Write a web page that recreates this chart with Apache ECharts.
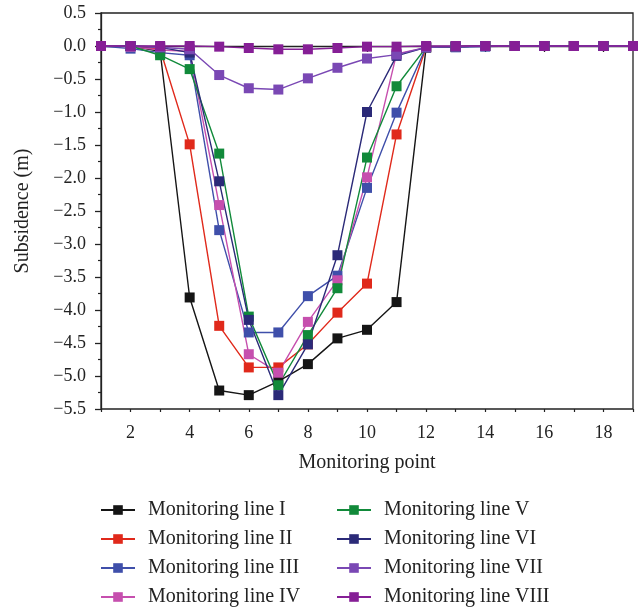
<!DOCTYPE html>
<html>
<head>
<meta charset="utf-8">
<script src="https://cdn.jsdelivr.net/npm/echarts@6/dist/echarts.min.js"></script>
<style>html,body{margin:0;padding:0;background:#fff}#c{width:640px;height:610px}</style>
</head>
<body>
<div id="c"></div>
<script>
var points = ['1','2','3','4','5','6','7','8','9','10','11','12','13','14','15','16','17','18','19'];
var seriesNames = ['Monitoring line I','Monitoring line II','Monitoring line III','Monitoring line IV','Monitoring line V','Monitoring line VI','Monitoring line VII','Monitoring line VIII'];
var lineI    = [0, 0, -0.08, -3.81, -5.22, -5.29, -5.08, -4.82, -4.43, -4.30, -3.88, -0.02, -0.01, 0, 0, 0, 0, 0, 0];
var lineII   = [0, 0, -0.05, -1.49, -4.24, -4.87, -4.87, -4.52, -4.04, -3.60, -1.34, -0.02, -0.01, 0, 0, 0, 0, 0, 0];
var lineIII  = [0, -0.04, -0.10, -0.14, -2.79, -4.34, -4.34, -3.79, -3.48, -2.15, -1.01, -0.02, -0.02, -0.01, 0, 0, 0, 0, 0];
var lineIV   = [0, -0.01, -0.06, -0.08, -2.41, -4.67, -4.95, -4.18, -3.55, -1.99, -0.12, -0.02, -0.01, 0, 0, 0, 0, 0, 0];
var lineV    = [0, 0, -0.14, -0.35, -1.63, -4.10, -5.14, -4.38, -3.67, -1.69, -0.61, -0.02, -0.01, 0, 0, 0, 0, 0, 0];
var lineVI   = [0, 0, -0.02, -0.10, -2.05, -4.15, -5.29, -4.52, -3.17, -1.00, -0.15, -0.02, -0.01, 0, 0, 0, 0, 0, 0];
var lineVII  = [0, 0, -0.02, -0.05, -0.44, -0.64, -0.66, -0.49, -0.33, -0.19, -0.13, -0.02, -0.01, 0, 0, 0, 0, 0, 0];
var lineVIII = [0, 0, 0, 0, -0.01, -0.03, -0.05, -0.05, -0.03, -0.01, -0.01, 0, 0, 0, 0, 0, 0, 0, 0];
var yTicks = {min: -5.5, max: 0.5, step: 0.5};

var colors = ['#151515','#e0291b','#3f4faa','#c64fae','#118a3a','#2b2a78','#7a48b4','#861f96'];
var allData = [lineI, lineII, lineIII, lineIV, lineV, lineVI, lineVII, lineVIII];
var FONT = 'Liberation Serif';
var TXT = '#222';

var series = seriesNames.map(function(n, i){
  return {
    name: n, type: 'line', data: allData[i],
    xAxisIndex: 0, yAxisIndex: 0,
    symbol: 'rect', symbolSize: 10,
    itemStyle: {color: colors[i]},
    lineStyle: {color: colors[i], width: 1.4},
    emphasis: {disabled: true},
    animation: false
  };
});

function legendCfg(names, left){
  return {
    data: names, orient: 'vertical', left: left, top: 500, padding: 0, height: 120,
    itemWidth: 34, itemHeight: 12, itemGap: 9,
    textStyle: {fontFamily: FONT, fontSize: 20, color: TXT, lineHeight: 20, padding: [0,0,0,8]},
    selectedMode: false
  };
}

var chart = echarts.init(document.getElementById('c'), null, {renderer: 'canvas'});
chart.setOption({
  backgroundColor: '#fff',
  animation: false,
  color: colors,
  grid: {left: 101, right: 7, top: 13, bottom: 201, show: true, borderColor: '#222', borderWidth: 1.3, backgroundColor: 'transparent'},
  legend: [legendCfg(seriesNames.slice(0,4), 100), legendCfg(seriesNames.slice(4), 336)],
  xAxis: [{
    type: 'category', data: points, boundaryGap: false,
    name: 'Monitoring point', nameLocation: 'middle', nameGap: 44,
    nameTextStyle: {fontFamily: FONT, fontSize: 20, color: TXT},
    axisLine: {lineStyle: {color: '#222', width: 1.3}},
    axisTick: {show: true, length: 6, lineStyle: {color: '#222', width: 1.3},
      interval: function(i){ return i % 2 === 1; }},
    axisLabel: {fontFamily: FONT, fontSize: 18, color: TXT, margin: 15,
      interval: function(i){ return i % 2 === 1; }},
    splitLine: {show: false}
  }, {
    type: 'category', data: points, boundaryGap: false, position: 'bottom',
    axisLine: {show: false},
    axisTick: {show: true, length: 3, interval: 0, lineStyle: {color: '#222', width: 1.2}},
    axisLabel: {show: false}, splitLine: {show: false}
  }],
  yAxis: [{
    type: 'value', min: yTicks.min, max: yTicks.max, interval: yTicks.step,
    name: 'Subsidence (m)', nameLocation: 'middle', nameGap: 68,
    nameTextStyle: {fontFamily: FONT, fontSize: 20, color: TXT},
    axisLine: {show: true, lineStyle: {color: '#222', width: 1.3}},
    axisTick: {show: true, length: 6, lineStyle: {color: '#222', width: 1.3}},
    minorTick: {show: true, splitNumber: 2, length: 3, lineStyle: {color: '#222', width: 1.2}},
    axisLabel: {fontFamily: FONT, fontSize: 18, color: TXT, margin: 15,
      formatter: function(v){ return v.toFixed(1).replace('-', '\u2212'); }},
    splitLine: {show: false}, minorSplitLine: {show: false}
  }],
  series: series
});
</script>
</body>
</html>
